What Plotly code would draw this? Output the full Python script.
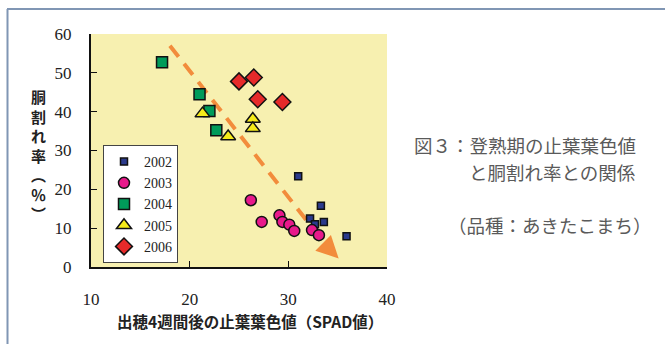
import plotly.graph_objects as go

# ---- data ----
x2002 = [31.0, 33.3, 32.2, 32.7, 33.6, 35.9]
y2002 = [23.4, 15.8, 12.5, 11.0, 11.6, 7.9]
x2003 = [26.2, 27.3, 29.1, 29.4, 30.1, 30.6, 32.4, 33.1]
y2003 = [17.2, 11.6, 13.3, 11.6, 10.9, 9.3, 9.5, 8.2]
x2004 = [17.2, 21.0, 22.0, 22.7]
y2004 = [52.7, 44.5, 40.2, 35.2]
x2005 = [21.3, 23.9, 26.4, 26.4]
y2005 = [39.5, 33.6, 38.1, 35.7]
x2006 = [25.0, 26.5, 26.9, 29.4]
y2006 = [47.8, 48.8, 43.2, 42.5]
trend_x = [18.0, 34.0]
trend_y = [57.0, 5.0]
trend_tip = [35.1, 2.2]
xticks = [10, 20, 30, 40]
yticks = [0, 10, 20, 30, 40, 50, 60]

serif = "Liberation Serif"
cjk = "Noto Sans CJK JP"
orange = "#F28C3C"

fig = go.Figure()
fig.add_trace(go.Scatter(x=trend_x, y=trend_y, mode="lines",
                         line=dict(color=orange, width=4, dash="14px,9px"),
                         showlegend=False, hoverinfo="skip"))
series = [
    ("2002", x2002, y2002, "square", 7, "#2B3A8C"),
    ("2003", x2003, y2003, "circle", 11, "#E8198B"),
    ("2004", x2004, y2004, "square", 11, "#009B5A"),
    ("2005", x2005, y2005, "triangle-up", 13, "#F5EB1A"),
    ("2006", x2006, y2006, "diamond", 13, "#E62A2A"),
]
for name, xs, ys, sym, sz, col in series:
    fig.add_trace(go.Scatter(x=xs, y=ys, mode="markers", name=name,
                             marker=dict(symbol=sym, size=sz, color=col,
                                         line=dict(color="#111", width=1.5))))

fig.add_annotation(x=trend_tip[0], y=trend_tip[1], ax=trend_x[1], ay=trend_y[1],
                   xref="x", yref="y", axref="x", ayref="y", text="",
                   showarrow=True, arrowhead=2, arrowsize=1.1, arrowwidth=4,
                   arrowcolor=orange, standoff=0)

ytitle = "胴<br>割<br>れ<br>率<br>︵<br>％<br>︶"
fig.add_annotation(xref="paper", yref="paper", x=(38-91)/296, y=(267-155)/233,
                   text=ytitle, showarrow=False, xanchor="center", yanchor="middle",
                   font=dict(family=cjk, size=15, color="#222", weight="bold"),
                   align="center")

fig.add_annotation(xref="paper", yref="paper", x=(250-91)/296, y=-(321-267)/233,
                   text="出穂4週間後の止葉葉色値（SPAD値）", showarrow=False,
                   xanchor="center", yanchor="middle",
                   font=dict(family=cjk, size=15.5, color="#222", weight="bold"))

gray = "#5a5a5a"
fig.add_annotation(xref="paper", yref="paper", x=(412-91)/296, y=(267-145)/233,
                   text="図３：登熟期の止葉葉色値", showarrow=False,
                   xanchor="left", yanchor="middle",
                   font=dict(family=cjk, size=18.5, color=gray))
fig.add_annotation(xref="paper", yref="paper", x=(467-91)/296, y=(267-172)/233,
                   text="と胴割れ率との関係", showarrow=False,
                   xanchor="left", yanchor="middle",
                   font=dict(family=cjk, size=18.5, color=gray))
fig.add_annotation(xref="paper", yref="paper", x=(446-91)/296, y=(267-225)/233,
                   text="（品種：あきたこまち）", showarrow=False,
                   xanchor="left", yanchor="middle",
                   font=dict(family=cjk, size=18.5, color=gray))

# outer frame
fig.add_shape(type="line", xref="paper", yref="paper",
              x0=(7-91)/296, x1=(670-91)/296, y0=(267-9)/233, y1=(267-9)/233,
              line=dict(color="#8096B4", width=2))
fig.add_shape(type="line", xref="paper", yref="paper",
              x0=(7.5-91)/296, x1=(7.5-91)/296, y0=(267-9)/233, y1=(267-350)/233,
              line=dict(color="#8096B4", width=2))

fig.update_layout(
    width=665, height=344,
    margin=dict(l=91, r=278, t=34, b=77, autoexpand=False),
    paper_bgcolor="white", plot_bgcolor="#F7F0B0",
    showlegend=True,
    legend=dict(x=12/296, y=(267-145)/233, xanchor="left", yanchor="top",
                bgcolor="white", bordercolor="#444", borderwidth=1,
                font=dict(family=serif, size=14, color="#222"),
                itemwidth=30, tracegroupgap=0, itemsizing="trace"),
    xaxis=dict(range=[10, 40], tickvals=xticks, ticks="inside", ticklen=6,
               tickcolor="#111", showline=True, linecolor="#111", linewidth=2,
               showgrid=False, zeroline=False, automargin=False,
               tickfont=dict(family=serif, size=17, color="#222"),
               ticklabelstandoff=16),
    yaxis=dict(range=[0, 60], tickvals=yticks, ticks="inside", ticklen=6,
               tickcolor="#111", showline=True, linecolor="#111", linewidth=2,
               showgrid=False, zeroline=False, automargin=False,
               tickfont=dict(family=serif, size=17, color="#222"),
               ticklabelstandoff=14),
)
fig.write_html("out.html", config={"displayModeBar": False},
               post_script="document.body.style.margin='0';document.body.style.overflow='hidden';")
